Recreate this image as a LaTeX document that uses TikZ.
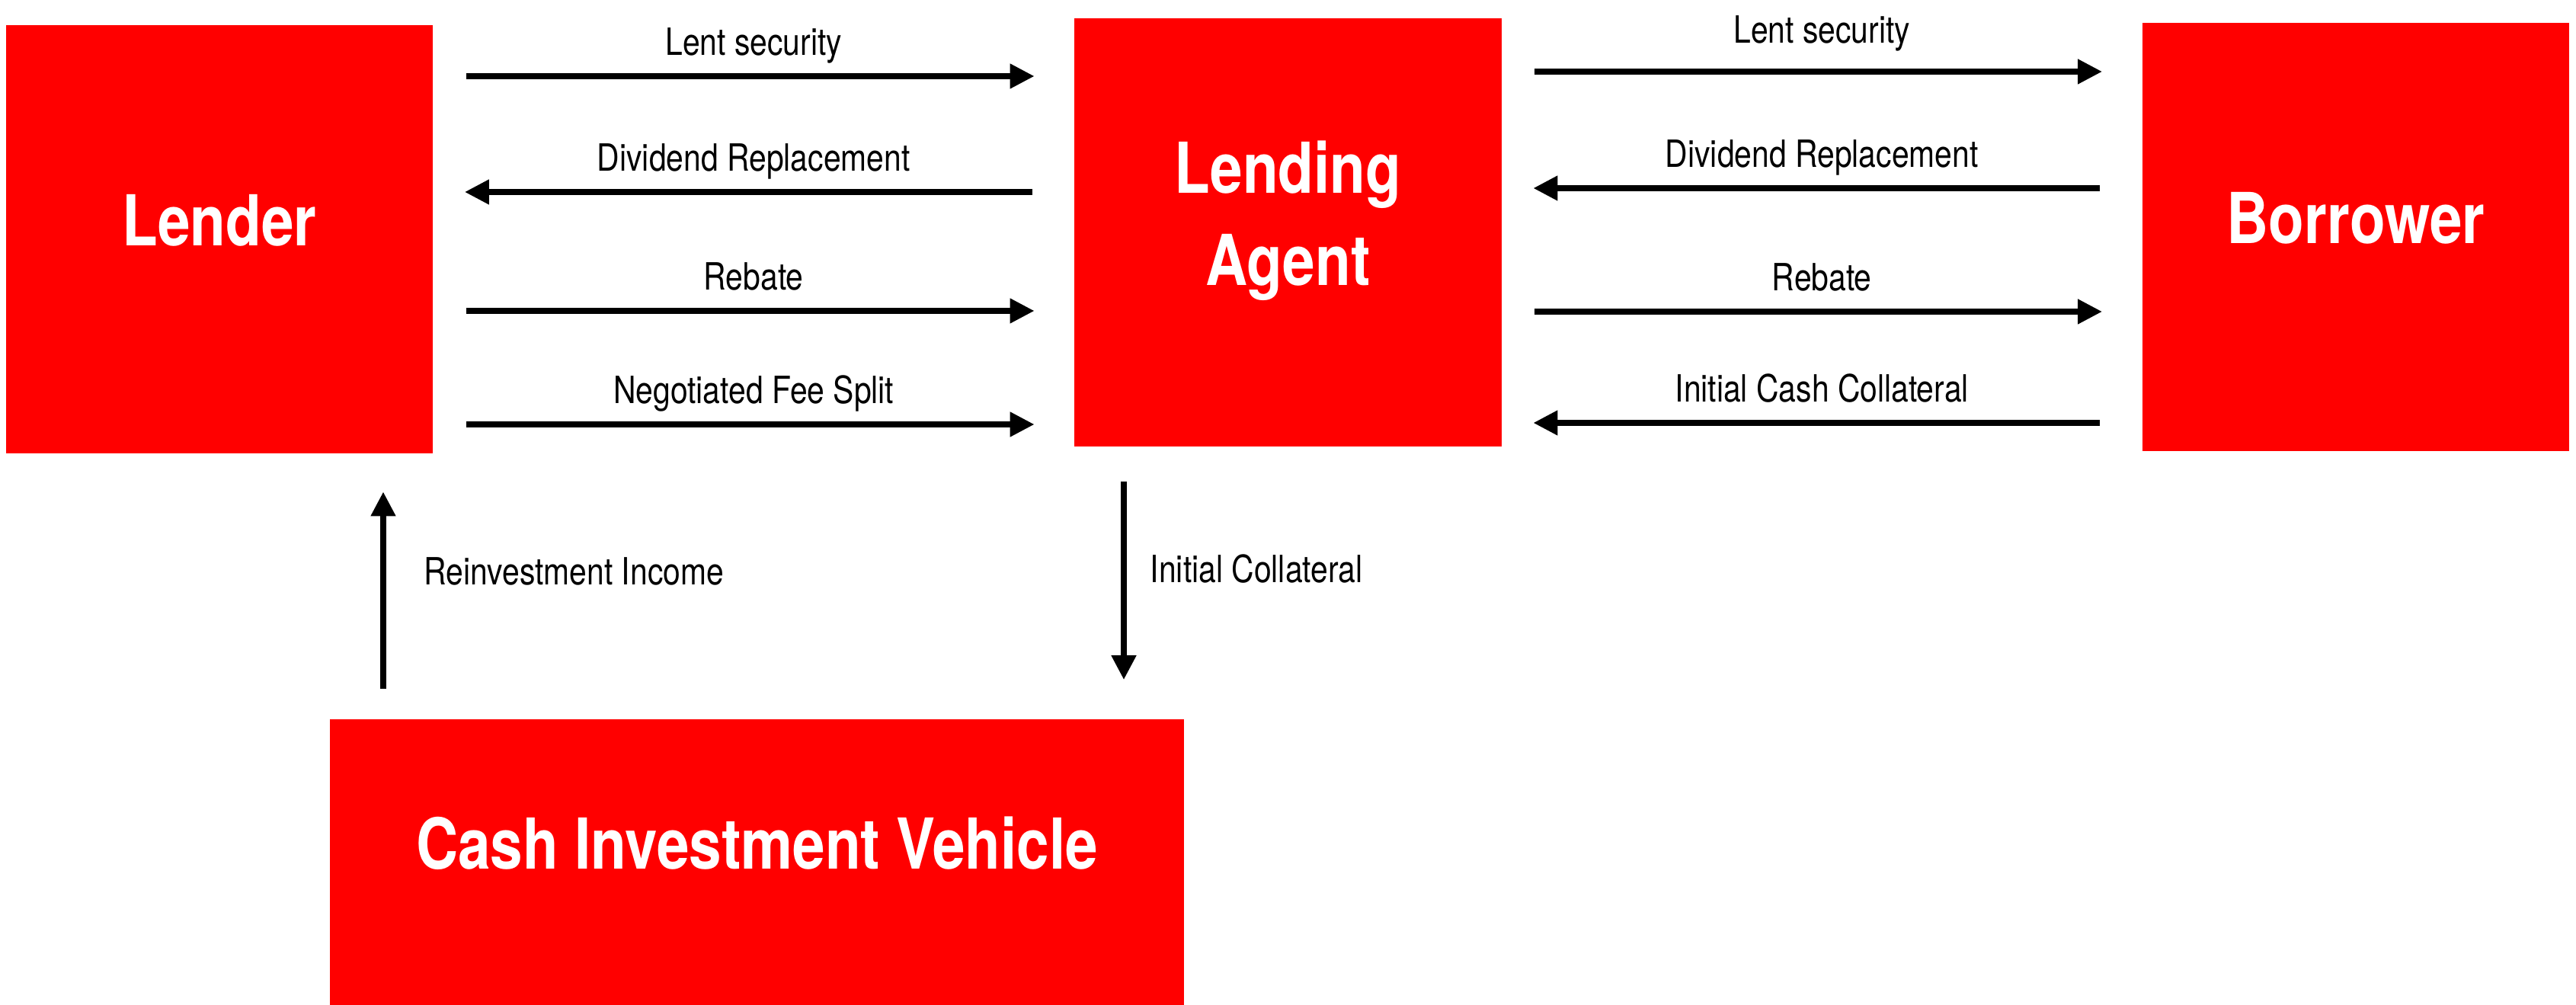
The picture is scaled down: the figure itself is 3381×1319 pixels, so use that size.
\documentclass[tikz,border=0pt]{standalone}
\usepackage{fontspec}
\usetikzlibrary{arrows.meta}
\newfontfamily\diagfont{TeX Gyre Heros}[FakeStretch=0.83]
\definecolor{boxred}{RGB}{255,0,0}

\begin{document}
\begin{tikzpicture}[line join=round,>={Triangle[length=9.1pt,width=8.8pt]},x=0.01cm,y=-0.01cm,
		party/.style={fill=boxred,text=white,inner sep=0pt,minimum width=5.6cm,minimum height=5.61cm,
			text height=5.1pt,text depth=0pt,font=\diagfont\fontsize{26.2pt}{34.4pt}\selectfont\bfseries},
		flow/.style={->,line width=2.2pt},
		toright/.style={flow,shorten <=0.43cm,shorten >=0.52cm},
		toleft/.style={flow,shorten <=0.55cm,shorten >=0.41cm},
		flowtext/.style={midway,anchor=base,yshift=0.27cm,inner sep=0pt,font=\diagfont\fontsize{14pt}{17pt}\selectfont},
		sidetext/.style={midway,anchor=base west,inner sep=0pt,font=\diagfont\fontsize{14pt}{17pt}\selectfont}]
		\useasboundingbox (0,0) rectangle (3381,1319);
		%%%%%%%%%%%%%%% P A R T I E S %%%%%%%%%%%%%%%%
		\node[party] (lender) at (288,314) {Lender};
		\node[party,text height=39.5pt] (agent) at (1690.5,305) {\begin{tabular}[b]{@{}c@{}}Lending\\Agent\end{tabular}};
		\node[party] (borrower) at (3092,311) {Borrower};
		\node[party,minimum width=11.21cm,minimum height=3.75cm] (civ) at (993.5,1131.5) {Cash Investment Vehicle};
		%%%%%%%%%%%%%%% R O W S %%%%%%%%%%%%%%%%
		%left rows
		\coordinate (l1) at (0,100);
		\coordinate (l2) at (0,252);
		\coordinate (l3) at (0,408);
		\coordinate (l4) at (0,557);
		%right rows
		\coordinate (r1) at (0,94);
		\coordinate (r2) at (0,247);
		\coordinate (r3) at (0,409);
		\coordinate (r4) at (0,555);
		%columns
		\coordinate (c1) at (503,0);
		\coordinate (c2) at (1475,0);
		%%%%%%%%%%%%%%% F L O W S %%%%%%%%%%%%%%%%
		%lender - agent
		\draw[toright] (lender.east |- l1) -- (agent.west |- l1) node[flowtext] {Lent security};
		\draw[toleft] (agent.west |- l2) -- (lender.east |- l2) node[flowtext] {Dividend Replacement};
		\draw[toright] (lender.east |- l3) -- (agent.west |- l3) node[flowtext] {Rebate};
		\draw[toright] (lender.east |- l4) -- (agent.west |- l4) node[flowtext] {Negotiated Fee Split};
		%agent - borrower
		\draw[toright] (agent.east |- r1) -- (borrower.west |- r1) node[flowtext,yshift=0.1cm] {Lent security};
		\draw[toleft] (borrower.west |- r2) -- (agent.east |- r2) node[flowtext] {Dividend Replacement};
		\draw[toright] (agent.east |- r3) -- (borrower.west |- r3) node[flowtext] {Rebate};
		\draw[toleft] (borrower.west |- r4) -- (agent.east |- r4) node[flowtext] {Initial Cash Collateral};
		%cash vehicle
		\draw[flow,shorten <=0.39cm,shorten >=0.5cm] (civ.north -| c1) -- (lender.south -| c1)
			node[sidetext,xshift=0.5cm,yshift=0.02cm] {Reinvestment Income};
		\draw[flow,shorten <=0.46cm,shorten >=0.51cm] (agent.south -| c2) -- (civ.north -| c2)
			node[sidetext,xshift=0.31cm] {Initial Collateral};
	\end{tikzpicture}
\end{document}
